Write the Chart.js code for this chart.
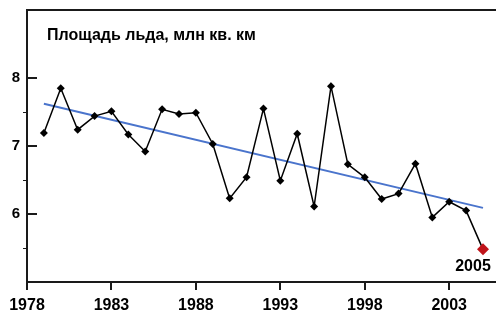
<!DOCTYPE html>
<html>
<head>
<meta charset="utf-8">
<script src="https://cdn.jsdelivr.net/npm/chart.js@4"></script>
<style>
html,body{margin:0;padding:0;background:#fff;overflow:hidden;}
#wrap{width:496px;height:314px;}
</style>
</head>
<body>
<div id="wrap"><canvas id="c" width="496" height="314"></canvas></div>
<script>
const years = [1979,1980,1981,1982,1983,1984,1985,1986,1987,1988,1989,1990,1991,1992,1993,1994,1995,1996,1997,1998,1999,2000,2001,2002,2003,2004,2005];
const iceArea = [7.19,7.85,7.24,7.44,7.51,7.17,6.92,7.54,7.47,7.49,7.03,6.23,6.54,7.55,6.49,7.18,6.11,7.88,6.73,6.54,6.22,6.30,6.74,5.95,6.18,6.05,5.48];
const trendYears = [1979,2005];
const trendValues = [7.62,6.09];
const xTicks = [1978,1983,1988,1993,1998,2003];
const yTicks = [6,7,8];
const yMinorTicks = [5.5,6.5,7.5];
const titleText = 'Площадь льда, млн кв. км';
const highlightLabel = '2005';

const mainPts = years.map((y,i)=>({x:y,y:iceArea[i]}));
const trendPts = trendYears.map((y,i)=>({x:y,y:trendValues[i]}));
const lastIdx = years.length-1;
const axisColor = '#1a1a1a';

const decor = {
  id:'decor',
  afterDraw(chart){
    const ctx = chart.ctx, a = chart.chartArea;
    const ys = chart.scales.y, xs = chart.scales.x;
    ctx.save();
    ctx.strokeStyle = axisColor;
    ctx.lineWidth = 2;
    // top border
    ctx.beginPath(); ctx.moveTo(a.left-1, a.top); ctx.lineTo(chart.width, a.top); ctx.stroke();
    // major y ticks (inward)
    yTicks.forEach(v=>{
      const py = Math.round(ys.getPixelForValue(v));
      ctx.beginPath(); ctx.moveTo(a.left, py); ctx.lineTo(a.left+10, py); ctx.stroke();
    });
    // minor y ticks (outward)
    ctx.lineWidth = 1;
    yMinorTicks.forEach(v=>{
      const py = Math.round(ys.getPixelForValue(v))+0.5;
      ctx.beginPath(); ctx.moveTo(a.left-4, py); ctx.lineTo(a.left, py); ctx.stroke();
    });
    // title
    ctx.fillStyle = '#000';
    ctx.font = 'bold 16px "Liberation Sans", Arial, sans-serif';
    ctx.textBaseline = 'alphabetic';
    ctx.textAlign = 'left';
    ctx.fillText(titleText, 47, 40);
    // 2005 label
    const px = xs.getPixelForValue(years[lastIdx]);
    const py = ys.getPixelForValue(iceArea[lastIdx]);
    ctx.font = 'bold 16px "Liberation Sans", Arial, sans-serif';
    ctx.textAlign = 'center';
    ctx.textBaseline = 'middle';
    ctx.fillText(highlightLabel, px-10, py+17);
    ctx.restore();
  }
};

new Chart(document.getElementById('c'), {
  type:'scatter',
  data:{
    datasets:[
      {
        data: trendPts, showLine:true, borderColor:'#4a74cc', borderWidth:2,
        pointRadius:0, fill:false, order:2
      },
      {
        data: mainPts, showLine:true, borderColor:'#000', borderWidth:1.5,
        pointStyle:'rectRot',
        pointRadius: mainPts.map((p,i)=> i===lastIdx ? 6 : 4),
        pointBackgroundColor: mainPts.map((p,i)=> i===lastIdx ? '#c0141a' : '#000'),
        pointBorderColor: mainPts.map((p,i)=> i===lastIdx ? '#c0141a' : '#000'),
        pointBorderWidth:0, fill:false, order:1, tension:0
      }
    ]
  },
  options:{
    responsive:false, devicePixelRatio:1, animation:false,
    layout:{autoPadding:false, padding:{top:10,right:0,left:0,bottom:0}},
    plugins:{legend:{display:false}, tooltip:{enabled:false}, title:{display:false}},
    scales:{
      x:{
        type:'linear', min:1978, max:2005.77,
        afterBuildTicks(s){ s.ticks = xTicks.map(v=>({value:v})); },
        afterFit(s){ s.height = 32; s.paddingLeft = 0; s.paddingRight = 0; },
        grid:{display:true, drawOnChartArea:false, drawTicks:true, tickLength:8, color:axisColor, lineWidth:2},
        border:{display:true, color:axisColor, width:2},
        ticks:{color:'#000', padding:6, maxRotation:0, autoSkip:false,
          font:{family:'"Liberation Sans", Arial, sans-serif', size:16, weight:'bold'},
          callback:(v)=>String(v)}
      },
      y:{
        type:'linear', min:5, max:9,
        afterBuildTicks(s){ s.ticks = yTicks.map(v=>({value:v})); },
        afterFit(s){ s.width = 27; s.paddingTop = 0; s.paddingBottom = 0; },
        grid:{display:false, drawTicks:false},
        border:{display:true, color:axisColor, width:2},
        ticks:{color:'#000', padding:7,
          font:{family:'"Liberation Sans", Arial, sans-serif', size:15, weight:'bold'},
          callback:(v)=>String(v)}
      }
    }
  },
  plugins:[decor]
});
</script>
</body>
</html>
